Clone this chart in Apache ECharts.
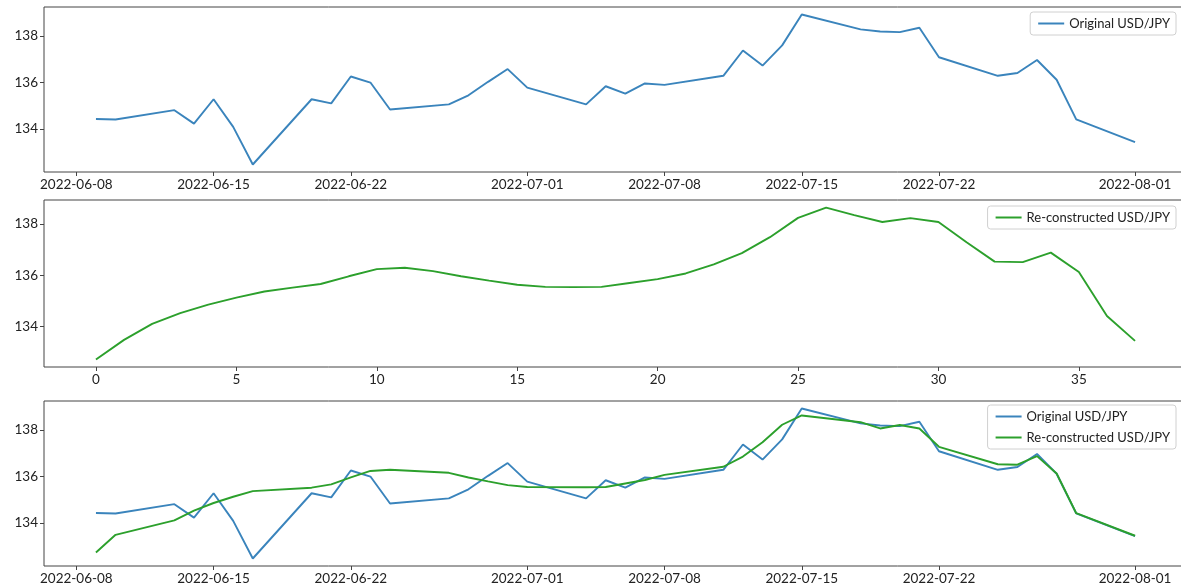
<!DOCTYPE html>
<html><head><meta charset="utf-8">
<script src="https://cdn.jsdelivr.net/npm/echarts@6/dist/echarts.min.js"></script>
<style>html,body{margin:0;padding:0;background:#fff;overflow:hidden}#c{width:1181px;height:587px}</style>
</head><body><div id="c"></div>
<script>
// ---- data ----
const dates = ['2022-06-09','2022-06-10','2022-06-13','2022-06-14','2022-06-15','2022-06-16','2022-06-17',
  '2022-06-20','2022-06-21','2022-06-22','2022-06-23','2022-06-24','2022-06-27','2022-06-28','2022-06-29',
  '2022-06-30','2022-07-01','2022-07-04','2022-07-05','2022-07-06','2022-07-07','2022-07-08','2022-07-11',
  '2022-07-12','2022-07-13','2022-07-14','2022-07-15','2022-07-18','2022-07-19','2022-07-20','2022-07-21',
  '2022-07-22','2022-07-25','2022-07-26','2022-07-27','2022-07-28','2022-07-29','2022-08-01'];
const original = [134.43,134.41,134.81,134.23,135.28,134.09,132.47,135.28,135.10,136.26,136.00,134.84,
  135.06,135.45,136.03,136.58,135.78,135.06,135.84,135.52,135.96,135.90,136.29,137.38,136.73,137.60,
  138.93,138.29,138.20,138.17,138.36,137.09,136.29,136.41,136.97,136.12,134.41,133.43];
const reconstructed = [132.73,133.49,134.11,134.53,134.86,135.13,135.37,135.52,135.66,135.96,136.24,136.29,
  136.16,135.96,135.79,135.63,135.55,135.54,135.55,135.70,135.85,136.07,136.42,136.86,137.48,138.23,
  138.63,138.34,138.07,138.22,138.07,137.28,136.53,136.51,136.88,136.13,134.42,133.45];
const indexTicks = [0,5,10,15,20,25,30,35];
const dateTicks = ['2022-06-08','2022-06-15','2022-06-22','2022-07-01','2022-07-08','2022-07-15','2022-07-22','2022-08-01'];
const yTicks = [134,136,138];
const nameOrig = 'Original USD/JPY';
const nameRec = 'Re-constructed USD/JPY';

// ---- helpers ----
function ts(s){const p=s.split('-').map(Number);return Date.UTC(p[0],p[1]-1,p[2]);}
function fmt(v){const d=new Date(v);const p=n=>String(n).padStart(2,'0');
  return d.getUTCFullYear()+'-'+p(d.getUTCMonth()+1)+'-'+p(d.getUTCDate());}
const tDates = dates.map(ts);
const span = tDates[tDates.length-1]-tDates[0];
const xMin = tDates[0]-span*0.05, xMax = tDates[tDates.length-1]+span*0.05;
function yRange(arrs){const all=[].concat(...arrs);const lo=Math.min(...all),hi=Math.max(...all);const m=(hi-lo)*0.05;return [lo-m,hi+m];}
const r1 = yRange([original]), r2 = yRange([reconstructed]), r3 = yRange([original,reconstructed]);
const iMin = -(reconstructed.length-1)*0.05, iMax = (reconstructed.length-1)*1.05;

const FONT = 'Lato';
const TXT = '#222';
const AX = '#444';
const BLUE = '#3a84bc';
const GREEN = '#2ca02c';

function yAxis(gi, r){
  return {type:'value', gridIndex:gi, min:r[0], max:r[1], splitLine:{show:false},
    axisLine:{show:false, onZero:false},
    axisTick:{show:true, inside:false, length:4, lineStyle:{color:AX}, customValues:yTicks},
    axisLabel:{color:TXT, fontFamily:FONT, fontSize:13.5, margin:6, customValues:yTicks}};
}
function xDate(gi){
  const cv = dateTicks.map(ts);
  return {type:'value', gridIndex:gi, min:xMin, max:xMax, splitLine:{show:false},
    axisLine:{show:false, onZero:false},
    axisTick:{show:true, length:4, lineStyle:{color:AX}, customValues:cv},
    axisLabel:{color:TXT, fontFamily:FONT, fontSize:13.5, margin:6, customValues:cv,
      formatter:v=>fmt(v)}};
}
function legend(top, names){
  return {right:5, top:top, orient:'vertical', data:names, itemWidth:26, itemHeight:2, itemGap:8,
    icon:'rect', borderColor:'#d0d0d0', borderWidth:1, borderRadius:3, padding:[5,6,5,8],
    backgroundColor:'rgba(255,255,255,0.8)',
    textStyle:{fontFamily:FONT, fontSize:13, color:TXT}, selectedMode:false};
}
const grid = (top,h)=>({left:44, width:1143, top:top, height:h, show:true, borderColor:AX, borderWidth:1,
  containLabel:false, outerBoundsMode:'none'});
const lineS = (name, xi, data, color)=>({name:name, type:'line', xAxisIndex:xi, yAxisIndex:xi, data:data,
  showSymbol:false, symbol:'none', lineStyle:{color:color, width:1.9}, itemStyle:{color:color}, z:xi+2});

const option = {
  animation:false,
  textStyle:{fontFamily:FONT},
  grid:[grid(7,165), grid(200,167), grid(401,165)],
  xAxis:[
    xDate(0),
    {type:'value', gridIndex:1, min:iMin, max:iMax, splitLine:{show:false}, axisLine:{show:false, onZero:false},
      axisTick:{show:true, length:4, lineStyle:{color:AX}, customValues:indexTicks},
      axisLabel:{color:TXT, fontFamily:FONT, fontSize:13.5, margin:6, customValues:indexTicks}},
    xDate(2)
  ],
  yAxis:[yAxis(0,r1), yAxis(1,r2), yAxis(2,r3)],
  legend:[legend(12,[nameOrig]), legend(206,[nameRec]), legend(405,[nameOrig,nameRec])],
  series:[
    lineS(nameOrig, 0, tDates.map((t,i)=>[t,original[i]]), BLUE),
    lineS(nameRec, 1, reconstructed.map((v,i)=>[i,v]), GREEN),
    lineS(nameOrig, 2, tDates.map((t,i)=>[t,original[i]]), BLUE),
    lineS(nameRec, 2, tDates.map((t,i)=>[t,reconstructed[i]]), GREEN)
  ]
};
const chart = echarts.init(document.getElementById('c'), null, {renderer:'canvas'});
chart.setOption(option);
</script></body></html>
